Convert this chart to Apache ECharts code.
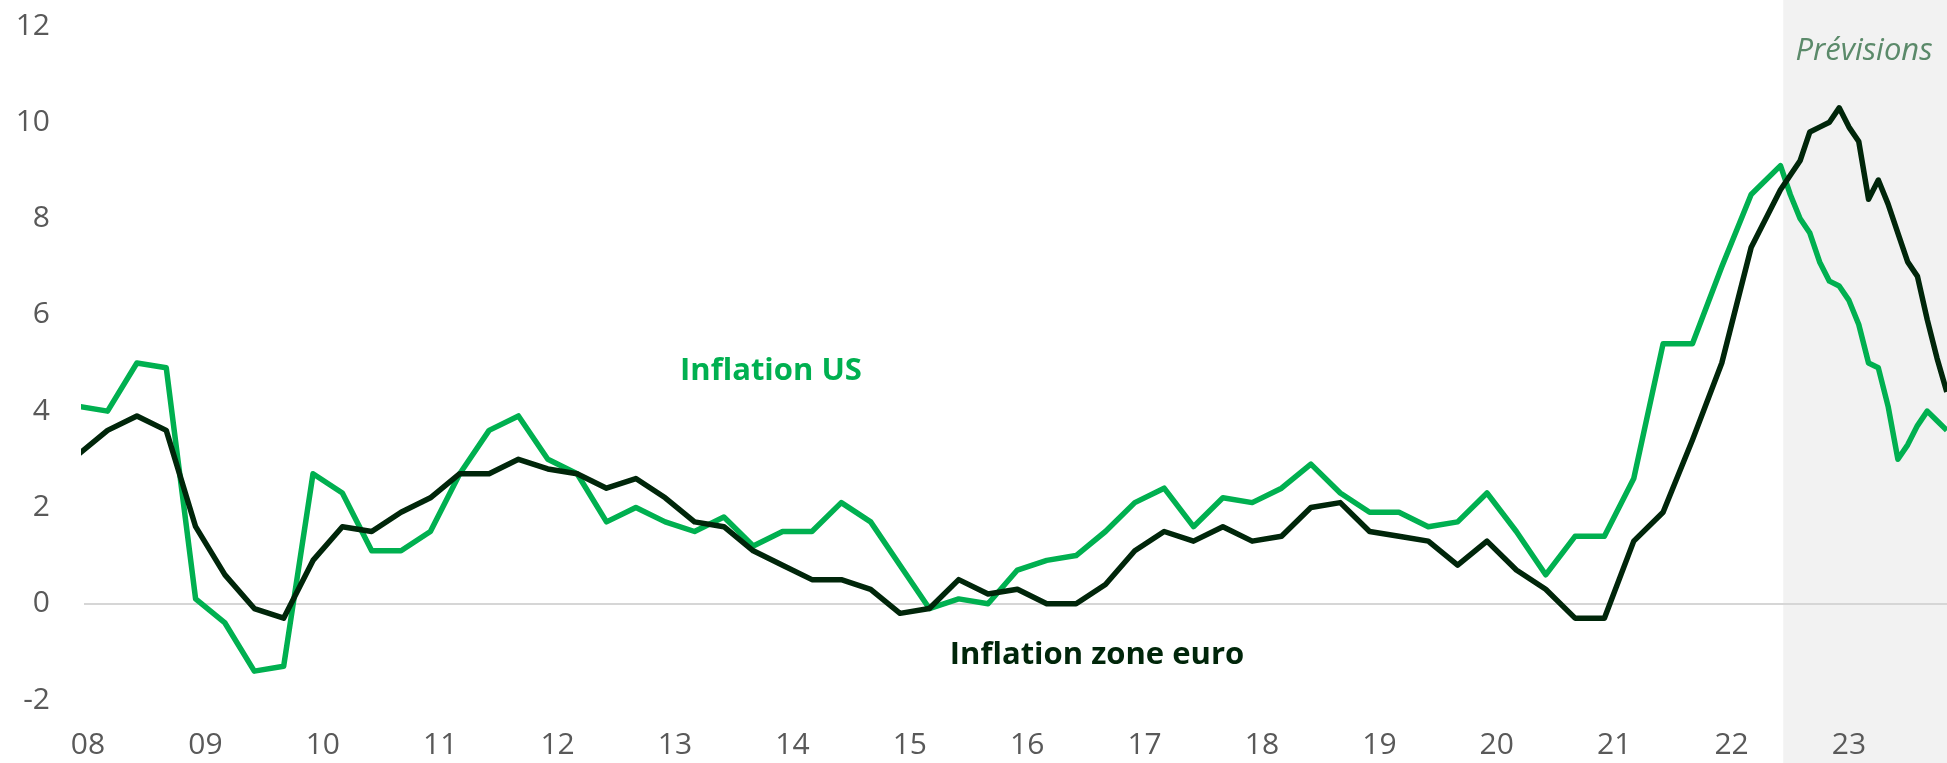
<!DOCTYPE html>
<html>
<head>
<meta charset="utf-8">
<script src="https://cdn.jsdelivr.net/npm/echarts@6/dist/echarts.min.js"></script>
<style>
  html, body { margin: 0; padding: 0; background: #fff; }
  #chart { width: 1947px; height: 763px; }
</style>
</head>
<body>
<div id="chart"></div>
<script>
// quarterly history (end-of-quarter month), then monthly from mid-2022
const quarterDates = [
  '2007-12',
  '2008-03', '2008-06', '2008-09', '2008-12',
  '2009-03', '2009-06', '2009-09', '2009-12',
  '2010-03', '2010-06', '2010-09', '2010-12',
  '2011-03', '2011-06', '2011-09', '2011-12',
  '2012-03', '2012-06', '2012-09', '2012-12',
  '2013-03', '2013-06', '2013-09', '2013-12',
  '2014-03', '2014-06', '2014-09', '2014-12',
  '2015-03', '2015-06', '2015-09', '2015-12',
  '2016-03', '2016-06', '2016-09', '2016-12',
  '2017-03', '2017-06', '2017-09', '2017-12',
  '2018-03', '2018-06', '2018-09', '2018-12',
  '2019-03', '2019-06', '2019-09', '2019-12',
  '2020-03', '2020-06', '2020-09', '2020-12',
  '2021-03', '2021-06', '2021-09', '2021-12',
  '2022-03', '2022-06'
];
const usQuarterly = [
  4.1,
  4.0, 5.0, 4.9, 0.1,
  -0.4, -1.4, -1.3, 2.7,
  2.3, 1.1, 1.1, 1.5,
  2.7, 3.6, 3.9, 3.0,
  2.7, 1.7, 2.0, 1.7,
  1.5, 1.8, 1.2, 1.5,
  1.5, 2.1, 1.7, 0.8,
  -0.1, 0.1, 0.0, 0.7,
  0.9, 1.0, 1.5, 2.1,
  2.4, 1.6, 2.2, 2.1,
  2.4, 2.9, 2.3, 1.9,
  1.9, 1.6, 1.7, 2.3,
  1.5, 0.6, 1.4, 1.4,
  2.6, 5.4, 5.4, 7.0,
  8.5, 9.1
];
const euroQuarterly = [
  3.1,
  3.6, 3.9, 3.6, 1.6,
  0.6, -0.1, -0.3, 0.9,
  1.6, 1.5, 1.9, 2.2,
  2.7, 2.7, 3.0, 2.8,
  2.7, 2.4, 2.6, 2.2,
  1.7, 1.6, 1.1, 0.8,
  0.5, 0.5, 0.3, -0.2,
  -0.1, 0.5, 0.2, 0.3,
  0.0, 0.0, 0.4, 1.1,
  1.5, 1.3, 1.6, 1.3,
  1.4, 2.0, 2.1, 1.5,
  1.4, 1.3, 0.8, 1.3,
  0.7, 0.3, -0.3, -0.3,
  1.3, 1.9, 3.4, 5.0,
  7.4, 8.6
];
const monthDates = [
  '2022-07', '2022-08', '2022-09', '2022-10', '2022-11', '2022-12',
  '2023-01', '2023-02', '2023-03', '2023-04', '2023-05', '2023-06',
  '2023-07', '2023-08', '2023-09', '2023-10', '2023-11'
];
const usMonthly = [8.5, 8.0, 7.7, 7.1, 6.7, 6.6, 6.3, 5.8, 5.0, 4.9, 4.1, 3.0, 3.3, 3.7, 4.0, 3.8, 3.6];
const euroMonthly = [8.9, 9.2, 9.8, 9.9, 10.0, 10.3, 9.9, 9.6, 8.4, 8.8, 8.3, 7.7, 7.1, 6.8, 5.9, 5.1, 4.4];

const yearTicks = [2008, 2009, 2010, 2011, 2012, 2013, 2014, 2015, 2016, 2017, 2018, 2019, 2020, 2021, 2022, 2023];
const forecastStart = 2022.44;

const toYear = (d) => {
  const [y, m] = d.split('-').map(Number);
  return y + (m - 1) / 12;
};
const pairs = (dates, vals) => dates.map((d, i) => [toYear(d), vals[i]]);

const usData = pairs(quarterDates, usQuarterly).concat(pairs(monthDates, usMonthly));
const euroData = pairs(quarterDates, euroQuarterly).concat(pairs(monthDates, euroMonthly));

const FONT = '"Open Sans", "Noto Sans", sans-serif';
const GREEN = '#00b050';
const DARK = '#00260a';

var myChart = echarts.init(document.getElementById('chart'));
option = {
  animation: false,
  grid: {
    left: 84,
    right: 0,
    top: 26,
    bottom: 63
  },
  xAxis: {
    type: 'value',
    min: 2007.966,
    max: 2023.835,
    axisLine: { show: false },
    axisTick: { show: false },
    splitLine: { show: false },
    axisLabel: {
      customValues: yearTicks,
      formatter: (v) => String(Math.round(v)).slice(2),
      color: '#595959',
      fontFamily: FONT,
      fontSize: 30,
      margin: 30
    }
  },
  yAxis: {
    type: 'value',
    min: -2,
    max: 12,
    interval: 2,
    axisLine: { show: false },
    axisTick: { show: false },
    splitLine: { show: false },
    axisLabel: {
      color: '#595959',
      fontFamily: FONT,
      fontSize: 30,
      margin: 34
    }
  },
  series: [
    {
      name: 'Inflation US',
      type: 'line',
      data: usData,
      showSymbol: false,
      clip: true,
      lineStyle: { color: GREEN, width: 5.5, join: 'round' },
      markLine: {
        silent: true,
        z: 1.5,
        symbol: 'none',
        label: { show: false },
        lineStyle: { color: '#d6d6d6', width: 2, type: 'solid' },
        data: [{ yAxis: 0 }]
      }
    },
    {
      name: 'Inflation zone euro',
      type: 'line',
      data: euroData,
      showSymbol: false,
      clip: true,
      lineStyle: { color: DARK, width: 5.5, join: 'round' }
    }
  ]
};
myChart.setOption(option);

// forecast band spans the full height, from the forecast start to the right edge
const bandX = myChart.convertToPixel({ xAxisIndex: 0 }, forecastStart);
myChart.setOption({
  graphic: [
    {
      type: 'rect',
      z: -10,
      silent: true,
      shape: { x: bandX, y: 0, width: myChart.getWidth() - bandX, height: myChart.getHeight() },
      style: { fill: '#f2f2f2' }
    },
    {
      type: 'text',
      z: 100,
      x: 771,
      y: 371,
      style: {
        text: 'Inflation US',
        fill: GREEN,
        font: 'bold 31px ' + FONT,
        textAlign: 'center',
        textVerticalAlign: 'middle'
      }
    },
    {
      type: 'text',
      z: 100,
      x: 1097,
      y: 655,
      style: {
        text: 'Inflation zone euro',
        fill: DARK,
        font: 'bold 31px ' + FONT,
        textAlign: 'center',
        textVerticalAlign: 'middle'
      }
    },
    {
      type: 'text',
      z: 100,
      x: 1864,
      y: 51,
      style: {
        text: 'Prévisions',
        fill: '#5b8a6a',
        font: 'italic 31px ' + FONT,
        textAlign: 'center',
        textVerticalAlign: 'middle'
      }
    }
  ]
});
</script>
</body>
</html>
